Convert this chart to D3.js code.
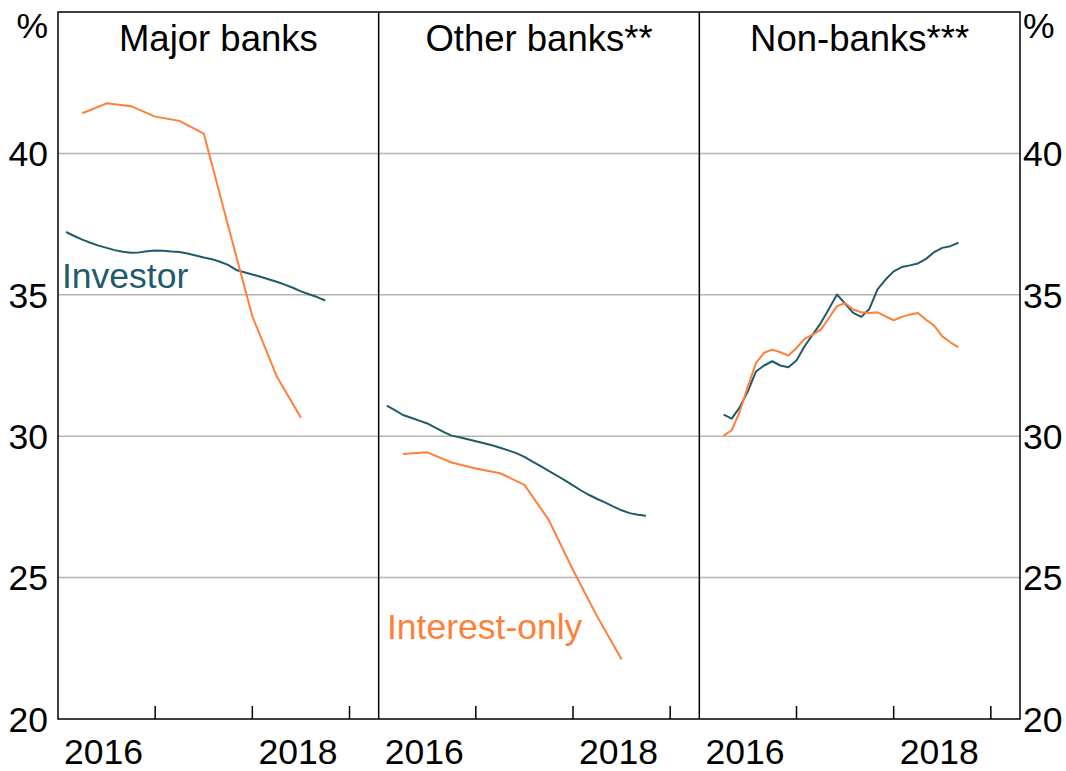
<!DOCTYPE html>
<html>
<head>
<meta charset="utf-8">
<script src="https://cdn.jsdelivr.net/npm/d3@7"></script>
<style>
  html, body { margin: 0; padding: 0; background: #fff; }
  svg text { font-family: "Liberation Sans", Arial, sans-serif; }
</style>
</head>
<body>
<div id="chart"></div>
<script>
// panel titles
const panels = ["Major banks", "Other banks**", "Non-banks***"];

// monthly investor share, Jan 2016 - Sep 2018
const investorMonths = d3.range(1, 34);
const majorInvestor = [37.22, 37.08, 36.95, 36.84, 36.74, 36.66, 36.58, 36.52, 36.49, 36.50, 36.54,
  36.57, 36.56, 36.53, 36.51, 36.46, 36.39, 36.32, 36.26, 36.17, 36.06, 35.88, 35.80, 35.72, 35.64,
  35.55, 35.46, 35.36, 35.25, 35.12, 35.02, 34.92, 34.80];
const otherInvestor = [31.08, 30.92, 30.75, 30.65, 30.55, 30.45, 30.30, 30.15, 30.02, 29.96, 29.89,
  29.82, 29.75, 29.68, 29.59, 29.50, 29.40, 29.27, 29.10, 28.94, 28.77, 28.61, 28.44, 28.26, 28.08,
  27.92, 27.78, 27.65, 27.51, 27.38, 27.28, 27.22, 27.19];

// quarterly interest-only share, Mar 2016 - Jun 2018
const ioQuarters = [3, 6, 9, 12, 15, 18, 21, 24, 27, 30];
const majorIO = [41.42, 41.77, 41.67, 41.30, 41.15, 40.70, 37.45, 34.24, 32.12, 30.65];
const otherIO = [29.37, 29.43, 29.07, 28.86, 28.69, 28.28, 27.04, 25.27, 23.62, 22.10];

// non-banks monthly, Mar 2016 - Aug 2018
const nonBankMonths = d3.range(3, 33);
const nonBankInvestor = [30.76, 30.62, 31.03, 31.59, 32.29, 32.50, 32.65, 32.50, 32.44, 32.68,
  33.18, 33.59, 34.00, 34.50, 35.01, 34.69, 34.36, 34.22, 34.50, 35.19, 35.54, 35.83, 35.98,
  36.04, 36.11, 36.27, 36.51, 36.66, 36.72, 36.84];
const nonBankIO = [30.02, 30.21, 30.88, 31.76, 32.59, 32.95, 33.06, 32.97, 32.85, 33.12, 33.44,
  33.59, 33.77, 34.18, 34.60, 34.71, 34.48, 34.38, 34.36, 34.38, 34.24, 34.10, 34.22, 34.30,
  34.36, 34.12, 33.91, 33.53, 33.32, 33.14];

const yTicks = [20, 25, 30, 35, 40];
const yearTicks = [2017, 2018, 2019];
const yearLabels = [2016, 2018];

const series = [
  [{ months: investorMonths, values: majorInvestor, key: "inv" }, { months: ioQuarters, values: majorIO, key: "io" }],
  [{ months: investorMonths, values: otherInvestor, key: "inv" }, { months: ioQuarters, values: otherIO, key: "io" }],
  [{ months: nonBankMonths, values: nonBankInvestor, key: "inv" }, { months: nonBankMonths, values: nonBankIO, key: "io" }]
];

const colors = { inv: "#1f5b6b", io: "#ff7f3a" };

const width = 1066, height = 771;
const margin = { top: 12, right: 46, bottom: 52, left: 58 };
const plotW = width - margin.left - margin.right;
const plotH = height - margin.top - margin.bottom;
const panelW = plotW / panels.length;
const fontSize = 35.5;
const titleSize = 36.5;

const svg = d3.select("#chart").append("svg")
  .attr("width", width)
  .attr("height", height);

const y = d3.scaleLinear().domain([20, 45]).range([margin.top + plotH, margin.top]);

// gridlines across the whole plot
svg.append("g")
  .selectAll("line")
  .data(yTicks.slice(1))
  .join("line")
  .attr("x1", margin.left)
  .attr("x2", margin.left + plotW)
  .attr("y1", d => y(d))
  .attr("y2", d => y(d))
  .attr("stroke", "#b4b4b4")
  .attr("stroke-width", 1.5);

panels.forEach((title, i) => {
  const x0 = margin.left + i * panelW;
  const x = d3.scaleLinear().domain([2016, 2019.3]).range([x0, x0 + panelW]);
  const g = svg.append("g");

  const line = d3.line()
    .x(d => x(2016 + d[0] / 12))
    .y(d => y(d[1]));

  series[i].forEach(s => {
    g.append("path")
      .datum(s.months.map((m, j) => [m, s.values[j]]))
      .attr("fill", "none")
      .attr("stroke", colors[s.key])
      .attr("stroke-width", 2)
      .attr("stroke-linejoin", "round")
      .attr("d", line);
  });

  // year ticks along bottom
  g.selectAll("line.tick")
    .data(yearTicks)
    .join("line")
    .attr("x1", d => x(d))
    .attr("x2", d => x(d))
    .attr("y1", y(20))
    .attr("y2", y(20) - 13)
    .attr("stroke", "#000")
    .attr("stroke-width", 1.5);

  g.selectAll("text.year")
    .data(yearLabels)
    .join("text")
    .attr("x", d => x(d + 0.5) - 3)
    .attr("y", 764)
    .attr("text-anchor", "middle")
    .attr("font-size", fontSize)
    .text(d => d);

  g.append("text")
    .attr("x", x0 + panelW / 2)
    .attr("y", 51)
    .attr("text-anchor", "middle")
    .attr("font-size", titleSize)
    .text(title);

  if (i > 0) {
    g.append("line")
      .attr("x1", x0).attr("x2", x0)
      .attr("y1", margin.top).attr("y2", margin.top + plotH)
      .attr("stroke", "#000")
      .attr("stroke-width", 1.5);
  }
});

// frame
svg.append("rect")
  .attr("x", margin.left)
  .attr("y", margin.top)
  .attr("width", plotW)
  .attr("height", plotH)
  .attr("fill", "none")
  .attr("stroke", "#000")
  .attr("stroke-width", 1.5);

// y tick labels on both sides
svg.append("g")
  .selectAll("text")
  .data(yTicks)
  .join("text")
  .attr("x", margin.left - 10)
  .attr("y", d => y(d))
  .attr("dy", "0.36em")
  .attr("text-anchor", "end")
  .attr("font-size", fontSize)
  .text(d => d);

svg.append("g")
  .selectAll("text")
  .data(yTicks)
  .join("text")
  .attr("x", margin.left + plotW + 3)
  .attr("y", d => y(d))
  .attr("dy", "0.36em")
  .attr("text-anchor", "start")
  .attr("font-size", fontSize)
  .text(d => d);

svg.append("text").attr("x", margin.left - 10).attr("y", 38)
  .attr("text-anchor", "end").attr("font-size", fontSize).text("%");
svg.append("text").attr("x", margin.left + plotW + 3).attr("y", 38)
  .attr("text-anchor", "start").attr("font-size", fontSize).text("%");

// series labels
svg.append("text").attr("x", 62).attr("y", 288)
  .attr("font-size", fontSize).attr("fill", colors.inv).text("Investor");
svg.append("text").attr("x", 387).attr("y", 639)
  .attr("font-size", fontSize).attr("fill", colors.io).text("Interest-only");
</script>
</body>
</html>
